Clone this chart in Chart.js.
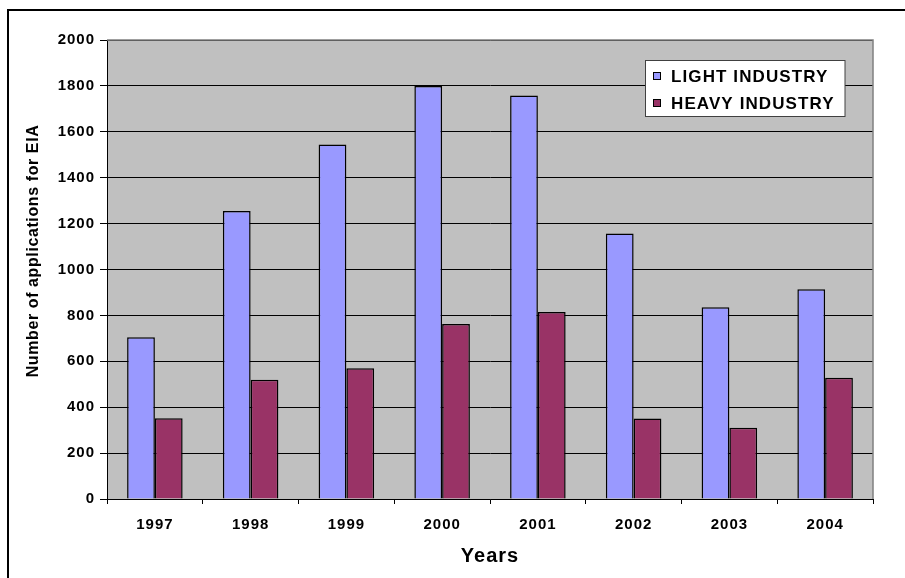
<!DOCTYPE html>
<html>
<head>
<meta charset="utf-8">
<script src="https://cdn.jsdelivr.net/npm/chart.js@4/dist/chart.umd.min.js"></script>
<style>
  html, body { margin: 0; padding: 0; background: #ffffff; }
  canvas { display: block; }
</style>
</head>
<body>
<canvas id="chart" width="905" height="578"></canvas>
<script>
// EIA applications per year, split by industry type
const years = ['1997', '1998', '1999', '2000', '2001', '2002', '2003', '2004'];
const lightIndustry = [705, 1255, 1545, 1800, 1758, 1157, 836, 914];
const heavyIndustry = [352, 520, 570, 762, 815, 351, 311, 528];
const seriesNames = ['LIGHT INDUSTRY', 'HEAVY INDUSTRY'];
const yTicks = [0, 200, 400, 600, 800, 1000, 1200, 1400, 1600, 1800, 2000];
const yTitle = 'Number of applications for EIA';

const FONT = "'Liberation Sans', Arial, sans-serif";
const SPACING = '1px';

// Slightly widened letter spacing for the axis labels
const spacingPlugin = {
  id: 'spacing',
  beforeUpdate(chart) { chart.ctx.letterSpacing = SPACING; },
  beforeLayout(chart) { chart.ctx.letterSpacing = SPACING; },
  beforeDraw(chart) { chart.ctx.letterSpacing = SPACING; }
};

// White page, outer frame and grey plotting area
const backdropPlugin = {
  id: 'backdrop',
  beforeDraw(chart) {
    const { ctx, chartArea: a } = chart;
    ctx.save();
    ctx.fillStyle = '#ffffff';
    ctx.fillRect(0, 0, chart.width, chart.height);
    ctx.strokeStyle = '#000000';
    ctx.lineWidth = 2;
    ctx.beginPath();
    ctx.moveTo(8, chart.height + 2);
    ctx.lineTo(8, 10);
    ctx.lineTo(chart.width + 2, 10);
    ctx.stroke();
    ctx.fillStyle = '#C0C0C0';
    ctx.fillRect(a.left, a.top, a.right - a.left, a.bottom - a.top);
    ctx.restore();
  },
  beforeDatasetsDraw(chart) {
    const { ctx, chartArea: a } = chart;
    ctx.save();
    ctx.strokeStyle = '#808080';
    ctx.lineWidth = 1.5;
    ctx.beginPath();
    ctx.moveTo(a.left, a.top);
    ctx.lineTo(a.right, a.top);
    ctx.lineTo(a.right, a.bottom);
    ctx.stroke();
    ctx.restore();
  }
};

// Vertical title beside the value axis
const yTitlePlugin = {
  id: 'yTitle',
  afterDraw(chart) {
    const { ctx } = chart;
    ctx.save();
    ctx.translate(34, 251);
    ctx.rotate(-Math.PI / 2);
    ctx.font = 'bold 16px ' + FONT;
    ctx.letterSpacing = '0.6px';
    ctx.fillStyle = '#000000';
    ctx.textAlign = 'center';
    ctx.textBaseline = 'middle';
    ctx.fillText(yTitle, 0, 0);
    ctx.restore();
  }
};

// Boxed legend in the upper right of the plot
const boxLegendPlugin = {
  id: 'boxLegend',
  afterDatasetsDraw(chart) {
    const { ctx } = chart;
    const x0 = 645.5, y0 = 60.5, w = 199.5, h = 56;
    ctx.save();
    ctx.fillStyle = '#ffffff';
    ctx.fillRect(x0, y0, w, h);
    ctx.strokeStyle = '#404040';
    ctx.lineWidth = 1;
    ctx.strokeRect(x0, y0, w, h);
    ctx.font = 'bold 17px ' + FONT;
    ctx.letterSpacing = '1.1px';
    ctx.textBaseline = 'middle';
    ctx.textAlign = 'left';
    const rows = [76, 103];
    chart.data.datasets.forEach((ds, i) => {
      const cy = rows[i];
      ctx.fillStyle = ds.backgroundColor;
      ctx.fillRect(653, cy - 4, 8, 8);
      ctx.strokeStyle = '#000000';
      ctx.strokeRect(653.5, cy - 3.5, 7, 7);
      ctx.fillStyle = '#000000';
      ctx.fillText(ds.label, 671, cy + 1);
    });
    ctx.restore();
  }
};

new Chart(document.getElementById('chart'), {
  type: 'bar',
  data: {
    labels: years,
    datasets: [
      { label: seriesNames[0], data: lightIndustry, backgroundColor: '#9999FF', borderColor: '#000000', borderWidth: 1.5 },
      { label: seriesNames[1], data: heavyIndustry, backgroundColor: '#993366', borderColor: '#000000', borderWidth: 1.5 }
    ]
  },
  options: {
    responsive: false,
    animation: false,
    layout: { padding: { left: 0, top: 40, right: 32, bottom: 0 } },
    datasets: { bar: { categoryPercentage: 0.58, barPercentage: 1.0 } },
    plugins: { legend: { display: false }, tooltip: { enabled: false } },
    scales: {
      x: {
        afterFit(s) { s.height = 79; },
        grid: { offset: true, drawOnChartArea: false, drawTicks: true, tickLength: 5, color: '#000000' },
        border: { display: true, color: '#000000', width: 1 },
        ticks: { color: '#000000', padding: 12, font: { family: FONT, size: 15, weight: 'bold' } },
        title: { display: true, text: 'Years', color: '#000000', padding: { top: 0, bottom: 10 }, font: { family: FONT, size: 20, weight: 'bold' } }
      },
      y: {
        min: 0,
        max: 2000,
        afterFit(s) { s.width = 107; },
        afterBuildTicks(s) { s.ticks = yTicks.map(v => ({ value: v })); },
        grid: { color: '#000000', lineWidth: 1, drawTicks: true, tickLength: 7 },
        border: { display: true, color: '#000000', width: 1 },
        ticks: { color: '#000000', padding: 5, callback: v => String(v), font: { family: FONT, size: 15, weight: 'bold' } }
      }
    }
  },
  plugins: [spacingPlugin, backdropPlugin, yTitlePlugin, boxLegendPlugin]
});
</script>
</body>
</html>
